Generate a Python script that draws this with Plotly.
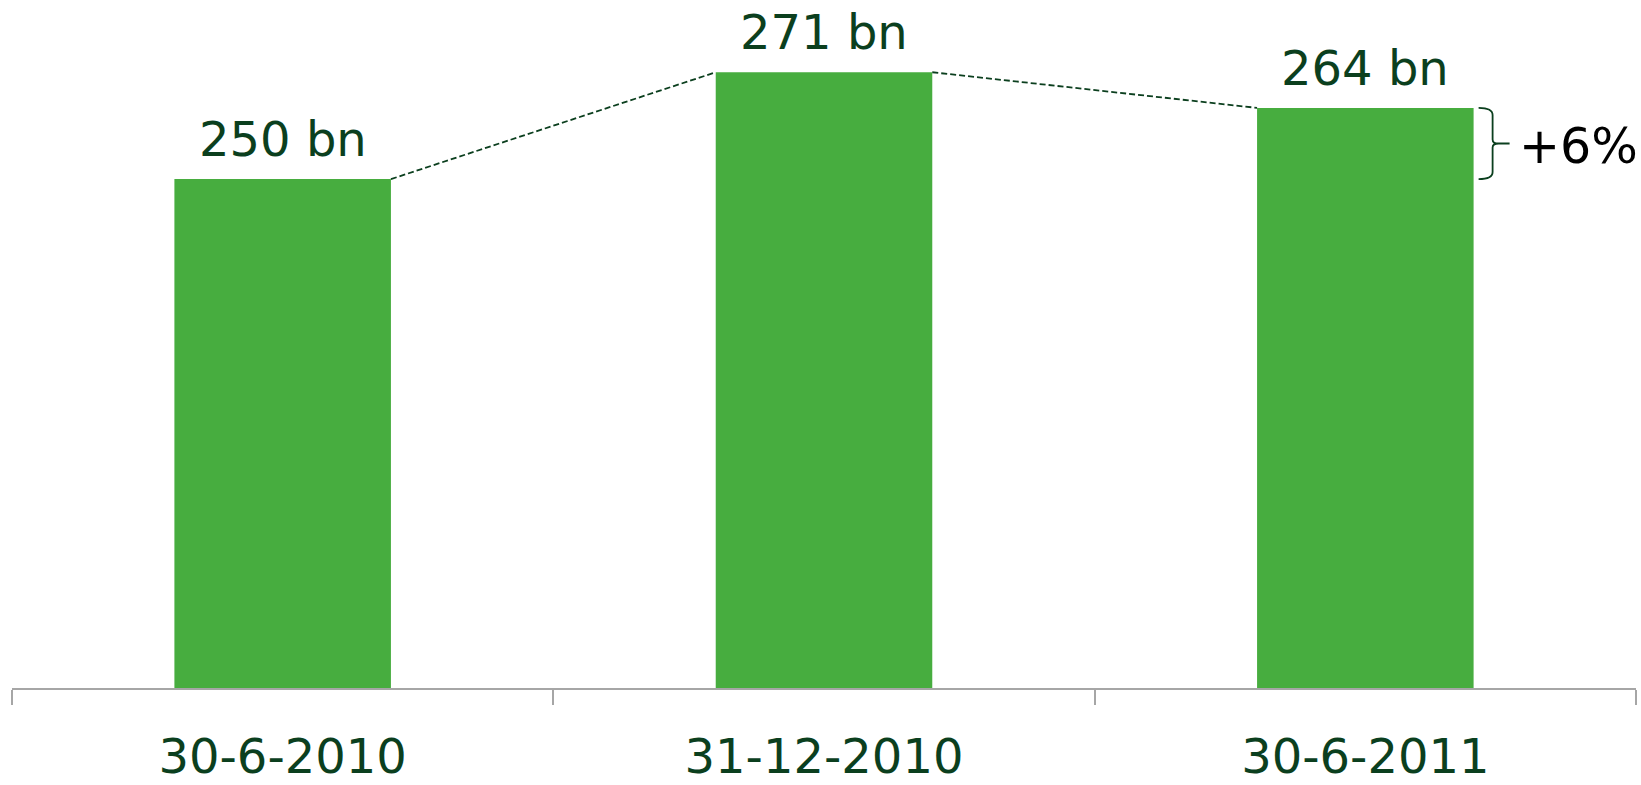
import plotly.graph_objects as go

# Totals at each reporting date (EUR bn)
dates = ["30-6-2010", "31-12-2010", "30-6-2011"]
totals = [250, 271, 264]
value_labels = ["250 bn", "271 bn", "264 bn"]
growth_label = "+6%"

BAR_COLOR = "#47AD3F"
TEXT_COLOR = "#0B3F1E"
AXIS_COLOR = "#A6A6A6"
FONT = "DejaVu Sans, Verdana, sans-serif"
BAR_WIDTH = 0.4
half = BAR_WIDTH / 2
xs = list(range(len(dates)))

fig = go.Figure()
fig.add_trace(go.Bar(
    x=xs, y=totals, width=BAR_WIDTH,
    marker=dict(color=BAR_COLOR, line=dict(width=0)),
    hoverinfo="skip", showlegend=False,
))

# Value labels above the bars
for x, v, t in zip(xs, totals, value_labels):
    fig.add_annotation(
        x=x, y=v, text=t, showarrow=False, yanchor="bottom", yshift=10,
        font=dict(family=FONT, size=48, color=TEXT_COLOR),
    )

# Dashed connectors between neighbouring bar tops
for i in range(len(xs) - 1):
    fig.add_shape(
        type="line", xref="x", yref="y",
        x0=xs[i] + half, y0=totals[i], x1=xs[i + 1] - half, y1=totals[i + 1],
        line=dict(color=TEXT_COLOR, width=1.8, dash="6px,3px"),
    )

# Brace spanning first to last value, beside the last bar
lo, hi = totals[0], totals[-1]
mid = (lo + hi) / 2
brace = (
    f"M 5,{hi} Q 19,{hi} 19,{hi - 1.4} L 19,{mid + 0.8} "
    f"Q 19,{mid} 25,{mid} L 36,{mid} "
    f"M 25,{mid} Q 19,{mid} 19,{mid - 0.8} L 19,{lo + 1.4} "
    f"Q 19,{lo} 5,{lo}"
)
fig.add_shape(
    type="path", xref="x", yref="y", xsizemode="pixel",
    xanchor=xs[-1] + half, path=brace,
    line=dict(color=TEXT_COLOR, width=1.8),
)
fig.add_annotation(
    x=xs[-1] + half, y=mid, text=growth_label, showarrow=False,
    xanchor="left", yanchor="middle", xshift=43, yshift=-3,
    font=dict(family=FONT, size=49, color="#000000"),
)

fig.update_layout(
    width=1641, height=785,
    margin=dict(l=12, r=5, t=0, b=97, autoexpand=False),
    paper_bgcolor="white", plot_bgcolor="white",
    bargap=0.6, showlegend=False,
    xaxis=dict(
        range=[-0.5, 2.5], tickmode="array", tickvals=xs, ticktext=dates,
        ticks="", showgrid=False, zeroline=False, automargin=False,
        showline=True, linecolor=AXIS_COLOR, linewidth=1.5,
        tickfont=dict(family=FONT, size=48, color=TEXT_COLOR),
        ticklabelstandoff=26,
        minor=dict(tickmode="array", tickvals=[-0.5, 0.5, 1.5, 2.5],
                   ticks="outside", ticklen=15, tickwidth=1.5,
                   tickcolor=AXIS_COLOR, showgrid=False),
    ),
    yaxis=dict(range=[150, 285.2], visible=False, showgrid=False,
               zeroline=False, automargin=False),
)

fig.write_html("out.html")
